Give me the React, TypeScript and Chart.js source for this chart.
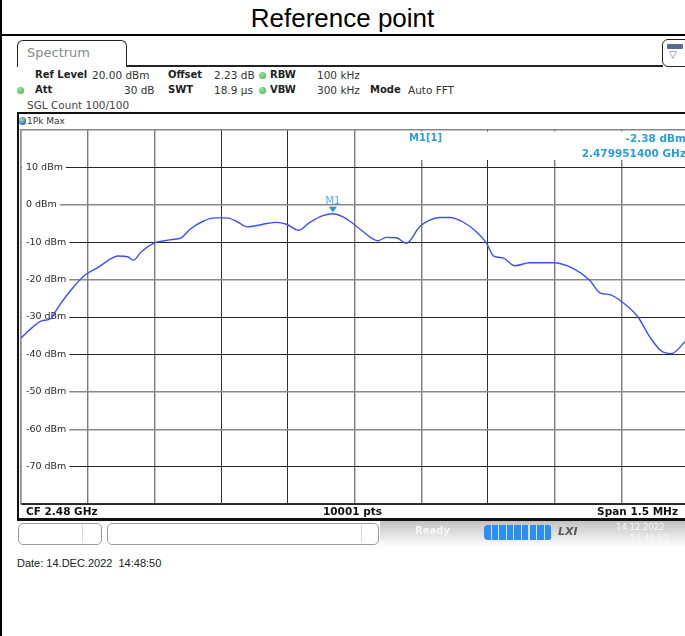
import React, { useEffect, useRef } from "react";
import { Chart, registerables } from "chart.js";

Chart.register(...registerables);

// ---------------- data ----------------
const centerFreqGHz = 2.48;
const spanMHz = 1.5;
const sweepPoints = 10001;
const refLevelDbm = 20;
const bottomLevelDbm = -80;

// trace: frequency offset from centre (kHz) and level (dBm)
const freqOffsetKHz = [
  -750, -727.5, -705, -682.5, -675, -660, -637.5, -607.5, -577.5, -547.5,
  -532.5, -510, -497, -480, -450, -427.5, -405, -389, -370.5, -340.5,
  -314.5, -288, -265.5, -241, -213, -198, -175.5, -153, -125, -100.5,
  -71, -48.6, -26, -3.5, 15.5, 53, 71.5, 94, 116.5, 146.5,
  169, 191.5, 214, 244, 274, 296.5, 313, 334, 360.5, 394,
  446.5, 491.5, 529, 553, 574, 600, 637.5, 664, 690, 712.5,
  742.5, 750,
];
const levelDbm = [
  -35.6, -33.1, -31.1, -30.4, -29.0, -26.3, -22.8, -18.9, -16.8, -14.4,
  -13.7, -13.9, -14.8, -12.6, -10.2, -9.6, -9.2, -8.8, -6.6, -4.4,
  -3.5, -3.5, -4.4, -5.9, -5.4, -5.0, -4.7, -5.2, -6.8, -4.7,
  -2.9, -2.38, -3.2, -5.0, -6.8, -9.6, -8.7, -8.8, -10.3, -5.9,
  -4.1, -3.4, -3.4, -4.6, -7.2, -10.2, -13.7, -14.2, -16.3, -15.5,
  -15.5, -17.0, -20.2, -23.6, -24.0, -25.8, -30.0, -35.3, -39.1, -39.8,
  -36.7, -35.7,
];

const freqGridKHz = [-750, -600, -450, -300, -150, 0, 150, 300, 450, 600, 750];
const levelGridDbm = [20, 10, 0, -10, -20, -30, -40, -50, -60, -70, -80];
const darkFreqGridKHz = [-300, -150, 300, 750];
const darkLevelGridDbm = [10, -10, -30, -40, -70, -80];

const markerName = "M1";
const markerTrace = 1;
const markerFreqGHz = 2.4799514;
const markerLevelDbm = -2.38;

// ---------------- helpers ----------------
const SANS = "'DejaVu Sans', Verdana, sans-serif";

type TProps = {
  x?: number;
  right?: number;
  y: number;
  size?: number;
  bold?: boolean;
  color?: string;
  family?: string;
  style?: React.CSSProperties;
  children: React.ReactNode;
};

function T({ x, right, y, size = 10.5, bold, color = "#222", family = SANS, style, children }: TProps) {
  const st: React.CSSProperties = {
    position: "absolute",
    top: y - 8,
    height: 16,
    lineHeight: "16px",
    fontSize: size,
    fontFamily: family,
    fontWeight: bold ? 700 : 400,
    color,
    whiteSpace: "pre",
    ...style,
  };
  if (right !== undefined) {
    st.right = right;
    st.textAlign = "right";
  } else st.left = x;
  return <div style={st}>{children}</div>;
}

function Dot({ x, y, color = "#3aae4a", r = 3.5 }: { x: number; y: number; color?: string; r?: number }) {
  return (
    <div
      style={{
        position: "absolute",
        left: x - r,
        top: y - r,
        width: r * 2,
        height: r * 2,
        borderRadius: "50%",
        background: `radial-gradient(circle at 35% 35%, #9be59f, ${color})`,
      }}
    />
  );
}

const markerPlugin = {
  id: "markerPlugin",
  beforeDatasetsDraw(chart: any) {
    const { ctx, chartArea } = chart;
    ctx.save();
    ctx.fillStyle = "#ffffff";
    const left = chartArea.left + 339;
    ctx.fillRect(left, chartArea.top + 1.5, chartArea.right - left, 28.5);
    ctx.restore();
  },
  afterDatasetsDraw(chart: any) {
    const { ctx } = chart;
    const xs = chart.scales.x;
    const ys = chart.scales.y;
    const px = xs.getPixelForValue((markerFreqGHz - centerFreqGHz) * 1e6);
    const py = ys.getPixelForValue(markerLevelDbm);
    ctx.save();
    ctx.fillStyle = "#1f96dc";
    ctx.beginPath();
    ctx.moveTo(px - 4, py - 7);
    ctx.lineTo(px + 4, py - 7);
    ctx.lineTo(px, py - 1.5);
    ctx.closePath();
    ctx.fill();
    ctx.fillStyle = "#4cb2ea";
    ctx.font = "10px 'DejaVu Sans'";
    ctx.textAlign = "center";
    ctx.textBaseline = "middle";
    ctx.fillText(markerName, px, py - 12.5);
    ctx.restore();
  },
};

function SpectrumChart() {
  const ref = useRef<HTMLCanvasElement | null>(null);
  useEffect(() => {
    if (!ref.current) return;
    const points = freqOffsetKHz.map((f, i) => ({ x: f, y: levelDbm[i] }));
    const chart = new Chart(ref.current, {
      type: "line",
      data: {
        datasets: [
          {
            label: "1Pk Max",
            data: points,
            borderColor: "#3d4ff2",
            borderWidth: 1.4,
            pointRadius: 0,
            cubicInterpolationMode: "monotone",
          },
        ],
      },
      options: {
        animation: false,
        responsive: true,
        maintainAspectRatio: false,
        devicePixelRatio: 1,
        layout: { padding: { left: 3, top: 3, right: 4, bottom: 3 } },
        plugins: { legend: { display: false }, tooltip: { enabled: false } },
        events: [],
        scales: {
          x: {
            type: "linear",
            min: freqGridKHz[0],
            max: freqGridKHz[freqGridKHz.length - 1],
            afterBuildTicks: (s: any) => {
              s.ticks = freqGridKHz.map((v) => ({ value: v }));
            },
            afterFit: (s: any) => {
              s.height = 0;
              s.paddingLeft = 0;
              s.paddingRight = 0;
            },
            ticks: { display: false },
            grid: {
              drawTicks: false,
              color: (c: any) => (darkFreqGridKHz.includes(c.tick?.value) ? "#2e2e2e" : "#7a7a7a"),
              lineWidth: (c: any) => (darkFreqGridKHz.includes(c.tick?.value) ? 1 : 1.4),
            },
            border: { display: true, color: "#333", width: 1.2 },
          },
          y: {
            type: "linear",
            min: bottomLevelDbm,
            max: refLevelDbm,
            afterBuildTicks: (s: any) => {
              s.ticks = levelGridDbm.map((v) => ({ value: v }));
            },
            afterFit: (s: any) => {
              s.width = 0;
              s.paddingTop = 0;
              s.paddingBottom = 0;
            },
            ticks: {
              mirror: true,
              padding: 5,
              color: "#2a2a2a",
              font: { family: "DejaVu Sans", size: 9.5 },
              callback: (v: any) => (v === refLevelDbm || v === bottomLevelDbm ? "" : `${v} dBm`),
              showLabelBackdrop: true,
              backdropColor: (c: any) =>
                c.tick && (c.tick.value === refLevelDbm || c.tick.value === bottomLevelDbm)
                  ? "rgba(0,0,0,0)"
                  : "#ffffff",
              backdropPadding: { left: 4, right: 3, top: 0, bottom: 0 },
            },
            grid: {
              drawTicks: false,
              color: (c: any) => (darkLevelGridDbm.includes(c.tick?.value) ? "#262626" : "#888888"),
              lineWidth: (c: any) => (darkLevelGridDbm.includes(c.tick?.value) ? 1 : 1.4),
            },
            border: { display: true, color: "#8a8a8a", width: 1.4 },
          },
        },
      },
      plugins: [markerPlugin],
    } as any);
    return () => chart.destroy();
  }, []);
  return (
    <div style={{ position: "absolute", left: 18, top: 127, width: 674, height: 380 }}>
      <canvas ref={ref} />
    </div>
  );
}

export default function App() {
  const markerOffsetText = `${markerLevelDbm.toFixed(2)} dBm`;
  const markerFreqText = `${markerFreqGHz.toFixed(9)} GHz`;
  return (
    <div
      style={{
        position: "fixed",
        left: 0,
        top: 0,
        width: 685,
        height: 636,
        overflow: "hidden",
        background: "#fff",
        fontFamily: SANS,
      }}
    >
      {/* table borders */}
      <div style={{ position: "absolute", left: 0, top: 0, width: 2, height: 636, background: "#000" }} />
      <div style={{ position: "absolute", left: 0, top: 34, width: 685, height: 2, background: "#000" }} />
      <div
        style={{
          position: "absolute",
          left: 0,
          top: 3,
          width: 685,
          textAlign: "center",
          fontFamily: "'Liberation Sans', Arial, sans-serif",
          fontSize: 26,
          lineHeight: "30px",
          color: "#000",
        }}
      >
        Reference point
      </div>

      {/* tab */}
      <div
        style={{
          position: "absolute",
          left: 17,
          top: 40,
          width: 108,
          height: 26,
          border: "1.5px solid #222",
          borderBottom: "none",
          borderRadius: "6px 6px 0 0",
          background: "#fff",
        }}
      />
      <T x={27} y={53} size={13} color="#8a8a8a">Spectrum</T>
      <div style={{ position: "absolute", left: 126, top: 65, width: 537, height: 1.5, background: "#222" }} />
      <div
        style={{
          position: "absolute",
          left: 662,
          top: 39,
          width: 30,
          height: 26,
          border: "1.5px solid #222",
          borderRadius: 6,
          background: "#fff",
        }}
      />
      <div style={{ position: "absolute", left: 667, top: 44, width: 16, height: 5, background: "#5b6a95", borderRadius: 1 }} />
      <T x={669} y={55} size={10} color="#5b6a95">▽</T>

      {/* settings header */}
      <T x={35} y={75} bold size={10}>Ref Level</T>
      <T x={92} y={75} color="#333">{`${refLevelDbm.toFixed(2)} dBm`}</T>
      <T x={168} y={75} bold size={10}>Offset</T>
      <T x={214} y={75} color="#333">2.23 dB</T>
      <Dot x={262} y={75} />
      <T x={270} y={75} bold size={10}>RBW</T>
      <T x={317} y={75} color="#333">100 kHz</T>

      <Dot x={20} y={90} />
      <T x={35} y={90} bold size={10}>Att</T>
      <T x={124} y={90} color="#333">30 dB</T>
      <T x={168} y={90} bold size={10}>SWT</T>
      <T x={214} y={90} color="#333">18.9 µs</T>
      <Dot x={262} y={90} />
      <T x={270} y={90} bold size={10}>VBW</T>
      <T x={317} y={90} color="#333">300 kHz</T>
      <T x={370} y={90} bold size={10}>Mode</T>
      <T x={408} y={90} color="#333">Auto FFT</T>

      <T x={27} y={105} color="#444">SGL Count 100/100</T>

      {/* trace box */}
      <div style={{ position: "absolute", left: 17, top: 112, width: 680, height: 2, background: "#111" }} />
      <div style={{ position: "absolute", left: 17, top: 112, width: 2, height: 409, background: "#111" }} />
      <Dot x={22.5} y={121} color="#1c2ee0" r={3.8} />
      <T x={27} y={121} size={9} color="#333">1Pk Max</T>

      <SpectrumChart />

      {/* marker info */}
      <T x={409} y={138} bold size={10} color="#2a9de0">{`${markerName}[${markerTrace}]`}</T>
      <T right={-1} y={138} bold size={10.5} color="#2a9de0">{markerOffsetText}</T>
      <T right={-1} y={153} bold size={10.5} color="#2a9de0">{markerFreqText}</T>

      {/* bottom strip */}
      <T x={26} y={511} bold size={10.5} color="#111">{`CF ${centerFreqGHz} GHz`}</T>
      <T x={323} y={511} bold size={10.5} color="#111">{`${sweepPoints} pts`}</T>
      <T right={7} y={511} bold size={10.5} color="#111">{`Span ${spanMHz} MHz`}</T>
      <div style={{ position: "absolute", left: 17, top: 518, width: 680, height: 3, background: "#111" }} />

      {/* status bar */}
      <div
        style={{
          position: "absolute",
          left: 380,
          top: 521,
          width: 305,
          height: 25,
          background: "linear-gradient(to bottom, #c2c2c2, #fdfdfd)",
        }}
      />
      <div
        style={{
          position: "absolute",
          left: 18,
          top: 523,
          width: 82,
          height: 20,
          border: "1px solid #9a9a9a",
          borderRadius: 5,
          background: "#fff",
        }}
      />
      <div style={{ position: "absolute", left: 82, top: 525, width: 1, height: 17, background: "#d8d8d8" }} />
      <div
        style={{
          position: "absolute",
          left: 107,
          top: 523,
          width: 270,
          height: 20,
          border: "1px solid #9a9a9a",
          borderRadius: 5,
          background: "#fff",
        }}
      />
      <div style={{ position: "absolute", left: 361, top: 525, width: 1, height: 17, background: "#d8d8d8" }} />
      <T x={415} y={531} bold size={10} color="#f6f6f6">Ready</T>
      <div
        style={{
          position: "absolute",
          left: 484,
          top: 525,
          width: 68,
          height: 15,
          borderRadius: 4,
          background: "repeating-linear-gradient(to right, #2b8ef0 0px, #2b8ef0 6.5px, #cfe4fb 6.5px, #cfe4fb 7.6px)",
        }}
      />
      <T x={558} y={532} bold size={11} color="#5a5a5a" style={{ fontStyle: "italic" }}>LXI</T>
      <T x={616} y={527} size={8.5} color="#f6f6f6">14.12.2022</T>
      <T x={630} y={538} size={8.5} color="#f6f6f6">14:48:50</T>

      {/* footer */}
      <T x={17} y={563} size={11} color="#222" family="'Liberation Sans', Arial, sans-serif">
        {"Date: 14.DEC.2022  14:48:50"}
      </T>
    </div>
  );
}
